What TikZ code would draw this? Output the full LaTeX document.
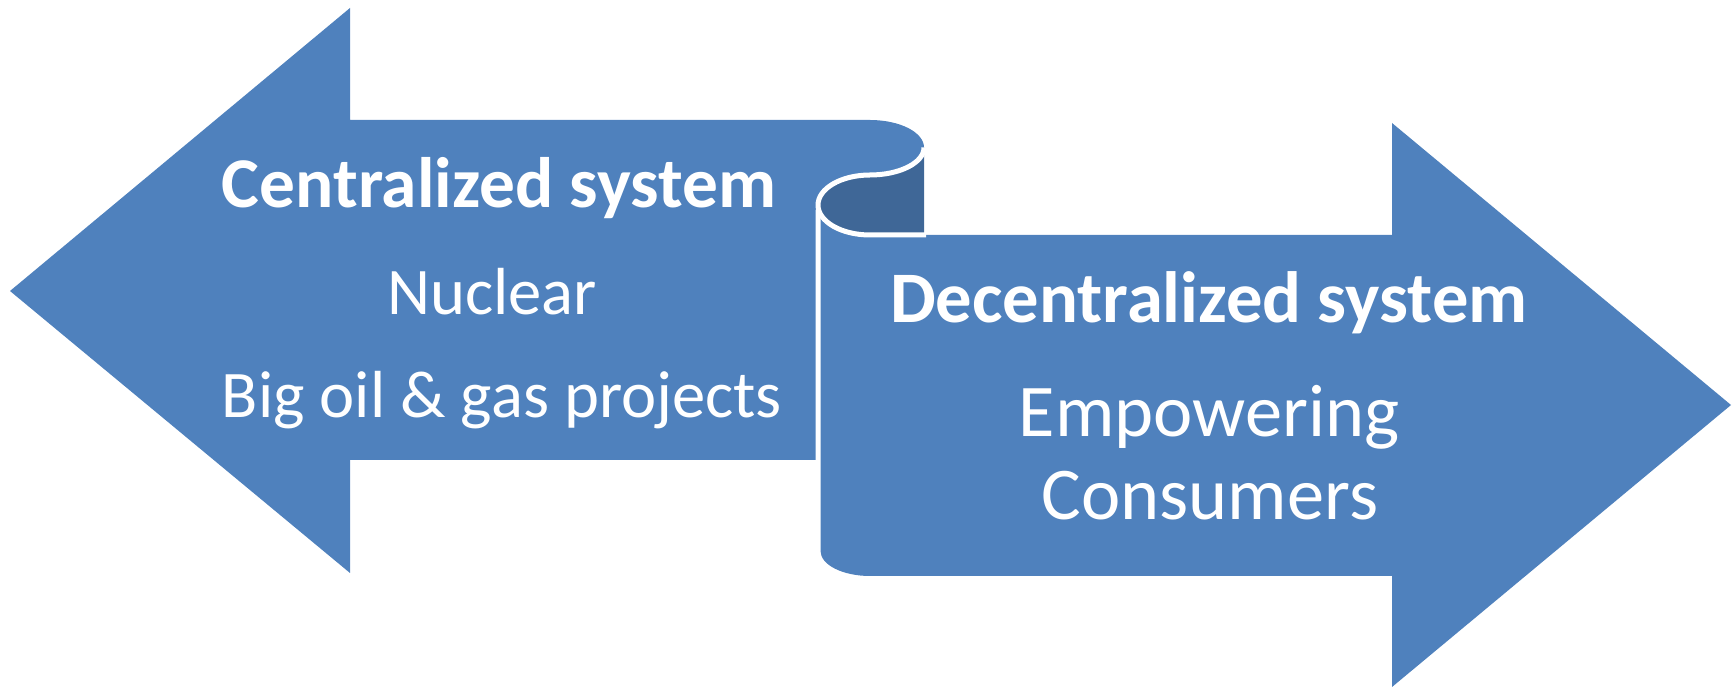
\documentclass[tikz,border=0pt]{standalone}
\usepackage{fontspec}
\setmainfont{Carlito}
\definecolor{mainblue}{HTML}{4F81BD}
\definecolor{darkblue}{HTML}{3F6797}
\begin{document}
\begin{tikzpicture}[x=0.5pt,y=-0.5pt,
  bluefill/.style={fill=mainblue},
  sep/.style={draw=white,line width=2.5pt,line join=round},
  head/.style={text=white,font=\fontsize{35.7}{40}\selectfont\bfseries,anchor=base,inner sep=0pt},
  body/.style={text=white,font=\fontsize{33.3}{40}\selectfont,anchor=base,inner sep=0pt},
  rhead/.style={text=white,font=\fontsize{36.3}{40}\selectfont\bfseries,anchor=base,inner sep=0pt},
  rbody/.style={text=white,font=\fontsize{37.2}{40}\selectfont,anchor=base,inner sep=0pt}]
\useasboundingbox (0,0) rectangle (1735,688);
% left arrow (with flap)
\path[bluefill] (10,291) -- (350,8) -- (350,120) -- (870,120)
  arc[start angle=90,end angle=-90,x radius=27pt,y radius=13.75pt]
  arc[start angle=90,end angle=180,x radius=26pt,y radius=15pt]
  -- (815.5,210) -- (815.5,460) -- (350,460) -- (350,573) -- cycle;
% right arrow / scroll
\path[bluefill] (818,205)
  arc[start angle=180,end angle=270,x radius=26pt,y radius=15pt]
  -- (1392,235) -- (1392,123) -- (1731,405) -- (1392,687) -- (1392,576) -- (870,576)
  arc[start angle=270,end angle=180,x radius=24.75pt,y radius=12.5pt]
  -- (820.5,210) -- cycle;
% dark curl
\path[fill=darkblue] (924,147.5) -- (924,235) -- (870,235)
  arc[start angle=270,end angle=90,x radius=26pt,y radius=15pt]
  arc[start angle=-90,end angle=0,x radius=27pt,y radius=13.75pt] -- cycle;
% white separating line of the curl
\draw[sep] (924,147.5)
  arc[start angle=0,end angle=-90,x radius=27pt,y radius=13.75pt]
  arc[start angle=90,end angle=270,x radius=26pt,y radius=15pt]
  -- (926,235);
% texts
\node[head] (c1) at (499,208) {Centralized system};
\node[body] (c2) at (492,315) {Nuclear};
\node[body] (c3) at (502,418) {Big oil \& gas projects};
\node[rhead] (d1) at (1209,323) {Decentralized system};
\node[rbody] (d2) at (1209,437) {Empowering};
\node[rbody] (d3) at (1210,520) {Consumers};
\end{tikzpicture}
\end{document}
